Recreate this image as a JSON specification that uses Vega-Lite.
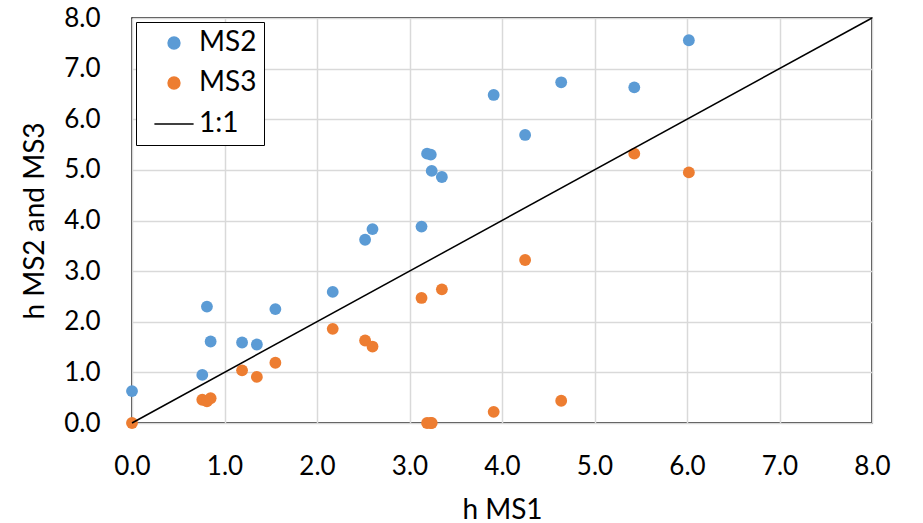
{
  "$schema": "https://vega.github.io/schema/vega-lite/v6.json",
  "width": 740,
  "height": 405,
  "autosize": {"type": "none"},
  "padding": {"left": 132, "top": 18, "right": 51, "bottom": 100},
  "background": "white",
  "config": {
    "font": "Lato",
    "view": {"stroke": "black", "strokeWidth": 1.5},
    "axis": {
      "grid": true,
      "gridColor": "#d9d9d9",
      "gridWidth": 1.5,
      "ticks": false,
      "domain": false,
      "labelFontSize": 26,
      "labelColor": "#000000",
      "titleFontSize": 28,
      "titleFontWeight": "normal",
      "titleColor": "#000000",
      "labelFlush": false,
      "labelOverlap": false
    },
    "legend": {
      "labelFontSize": 28,
      "labelColor": "#000000",
      "symbolStrokeWidth": 1.5
    }
  },
  "datasets": {
    "pts": [
      {"h1": 0.0, "h": 0.63, "series": "MS2"},
      {"h1": 0.81, "h": 2.30, "series": "MS2"},
      {"h1": 0.85, "h": 1.61, "series": "MS2"},
      {"h1": 0.76, "h": 0.95, "series": "MS2"},
      {"h1": 1.19, "h": 1.59, "series": "MS2"},
      {"h1": 1.35, "h": 1.55, "series": "MS2"},
      {"h1": 1.55, "h": 2.25, "series": "MS2"},
      {"h1": 2.17, "h": 2.59, "series": "MS2"},
      {"h1": 2.52, "h": 3.62, "series": "MS2"},
      {"h1": 2.60, "h": 3.83, "series": "MS2"},
      {"h1": 3.13, "h": 3.88, "series": "MS2"},
      {"h1": 3.19, "h": 5.32, "series": "MS2"},
      {"h1": 3.23, "h": 5.30, "series": "MS2"},
      {"h1": 3.24, "h": 4.98, "series": "MS2"},
      {"h1": 3.35, "h": 4.86, "series": "MS2"},
      {"h1": 3.91, "h": 6.48, "series": "MS2"},
      {"h1": 4.25, "h": 5.69, "series": "MS2"},
      {"h1": 4.64, "h": 6.73, "series": "MS2"},
      {"h1": 5.43, "h": 6.63, "series": "MS2"},
      {"h1": 6.02, "h": 7.56, "series": "MS2"},
      {"h1": 0.0, "h": 0.0, "series": "MS3"},
      {"h1": 0.76, "h": 0.46, "series": "MS3"},
      {"h1": 0.81, "h": 0.43, "series": "MS3"},
      {"h1": 0.85, "h": 0.49, "series": "MS3"},
      {"h1": 1.19, "h": 1.04, "series": "MS3"},
      {"h1": 1.35, "h": 0.91, "series": "MS3"},
      {"h1": 1.55, "h": 1.19, "series": "MS3"},
      {"h1": 2.17, "h": 1.86, "series": "MS3"},
      {"h1": 2.52, "h": 1.63, "series": "MS3"},
      {"h1": 2.60, "h": 1.51, "series": "MS3"},
      {"h1": 3.13, "h": 2.47, "series": "MS3"},
      {"h1": 3.19, "h": 0.0, "series": "MS3"},
      {"h1": 3.23, "h": 0.0, "series": "MS3"},
      {"h1": 3.24, "h": 0.0, "series": "MS3"},
      {"h1": 3.35, "h": 2.64, "series": "MS3"},
      {"h1": 3.91, "h": 0.22, "series": "MS3"},
      {"h1": 4.25, "h": 3.22, "series": "MS3"},
      {"h1": 4.64, "h": 0.44, "series": "MS3"},
      {"h1": 5.43, "h": 5.32, "series": "MS3"},
      {"h1": 6.02, "h": 4.95, "series": "MS3"}
    ],
    "oneone": [
      {"h1": 0, "h": 0, "series": "1:1"},
      {"h1": 8, "h": 8, "series": "1:1"}
    ]
  },
  "encoding": {
    "x": {
      "field": "h1", "type": "quantitative",
      "scale": {"domain": [0, 8], "nice": false},
      "axis": {"title": "h MS1", "labelPadding": 30, "titlePadding": 17, "values": [0, 1, 2, 3, 4, 5, 6, 7, 8], "format": ".1f"}
    },
    "y": {
      "field": "h", "type": "quantitative",
      "scale": {"domain": [0, 8], "nice": false},
      "axis": {"title": "h MS2 and MS3", "labelPadding": 32, "titlePadding": 14, "values": [0, 1, 2, 3, 4, 5, 6, 7, 8], "format": ".1f"}
    },
    "color": {
      "field": "series", "type": "nominal",
      "scale": {"domain": ["MS2", "MS3", "1:1"], "range": ["#5B9BD5", "#ED7D31", "#000000"]},
      "legend": {
        "title": null,
        "orient": "top-left",
        "offset": 4,
        "strokeColor": "#000000",
        "fillColor": "white",
        "padding": 7,
        "rowPadding": 12,
        "labelOffset": 10,
        "symbolOffset": 16,
        "encode": {
          "symbols": {
            "update": {
              "stroke": {"signal": "datum.value === '1:1' ? '#000000' : 'transparent'"}
            }
          }
        }
      }
    }
  },
  "layer": [
    {
      "data": {"name": "pts"},
      "mark": {"type": "point", "filled": true, "opacity": 1},
      "encoding": {
        "shape": {
          "field": "series", "type": "nominal",
          "scale": {"domain": ["MS2", "MS3", "1:1"], "range": ["circle", "circle", "M-1.4,0H1.4"]}
        },
        "size": {
          "field": "series", "type": "nominal",
          "scale": {"type": "ordinal", "domain": ["MS2", "MS3", "1:1"], "range": [140, 140, 784]}
        }
      }
    },
    {
      "data": {"name": "oneone"},
      "mark": {"type": "line", "strokeWidth": 1.5},
      "encoding": {}
    }
  ]
}
